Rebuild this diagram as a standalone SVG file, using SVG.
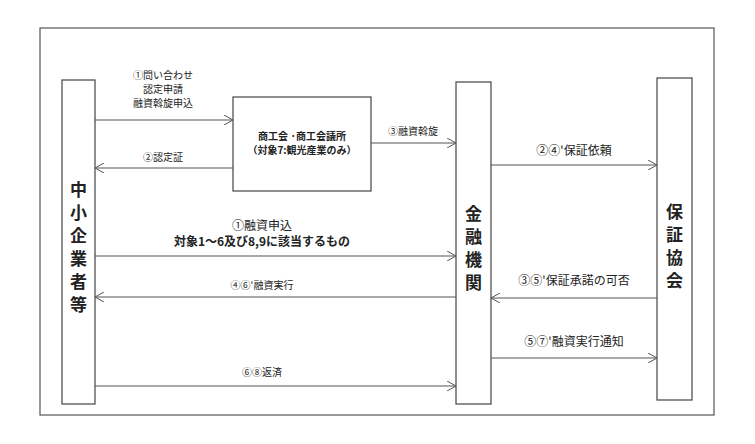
<svg xmlns="http://www.w3.org/2000/svg" width="755" height="444" viewBox="0 0 755 444">
<style>
text{font-family:"Noto Sans CJK JP","Noto Sans",sans-serif;fill:#222}
.s{font-size:10px}
.m{font-size:12px}
.b{font-size:17px;font-weight:bold}
.n{fill:#fff;stroke:#444;stroke-width:1.2}
.c line{stroke:#555;stroke-width:1.1;marker-end:url(#a)}
</style>
<defs><marker id="a" markerWidth="10" markerHeight="10" refX="9" refY="5" orient="auto" markerUnits="userSpaceOnUse"><path d="M0,0 L9,5 L0,10" fill="none" stroke="#555" stroke-width="1"/></marker></defs>
<rect width="755" height="444" fill="#fff"/>
<rect x="40" y="28" width="674" height="387" fill="none" stroke="#555" stroke-width="1.2"/>
<g id="sme"><rect class="n" x="62" y="80" width="33" height="324"/>
<text class="b" text-anchor="middle" x="78.5" y="196">中</text><text class="b" text-anchor="middle" x="78.5" y="219">小</text><text class="b" text-anchor="middle" x="78.5" y="242">企</text><text class="b" text-anchor="middle" x="78.5" y="265">業</text><text class="b" text-anchor="middle" x="78.5" y="288">者</text><text class="b" text-anchor="middle" x="78.5" y="311">等</text></g>
<g id="chamber"><rect class="n" x="233" y="97" width="138" height="94"/>
<text class="s" font-weight="bold" text-anchor="middle" x="302" y="140">商工会 ·商工会議所</text>
<text class="s" font-weight="bold" text-anchor="middle" x="302" y="154">（対象7:観光産業のみ）</text></g>
<g id="bank"><rect class="n" x="456" y="82" width="35" height="322"/>
<text class="b" text-anchor="middle" x="473.5" y="220">金</text><text class="b" text-anchor="middle" x="473.5" y="243">融</text><text class="b" text-anchor="middle" x="473.5" y="266">機</text><text class="b" text-anchor="middle" x="473.5" y="289">関</text></g>
<g id="guarantee"><rect class="n" x="657" y="78" width="35" height="322"/>
<text class="b" text-anchor="middle" x="674.5" y="218">保</text><text class="b" text-anchor="middle" x="674.5" y="241">証</text><text class="b" text-anchor="middle" x="674.5" y="264">協</text><text class="b" text-anchor="middle" x="674.5" y="287">会</text></g>
<g class="c">
<line x1="95" y1="120" x2="233" y2="120"/>
<line x1="233" y1="168" x2="95" y2="168"/>
<line x1="371" y1="143" x2="456" y2="143"/>
<line x1="95" y1="256" x2="456" y2="256"/>
<line x1="456" y1="297" x2="95" y2="297"/>
<line x1="95" y1="386" x2="456" y2="386"/>
<line x1="491" y1="165" x2="657" y2="165"/>
<line x1="657" y1="298" x2="491" y2="298"/>
<line x1="491" y1="358" x2="657" y2="358"/>
</g>
<g id="labels">
<text class="s" text-anchor="middle" x="163" y="79">①問い合わせ</text>
<text class="s" text-anchor="middle" x="163" y="93">認定申請</text>
<text class="s" text-anchor="middle" x="163" y="107">融資斡旋申込</text>
<text class="s" text-anchor="middle" x="163" y="161">②認定証</text>
<text class="s" text-anchor="middle" x="413" y="135">③融資斡旋</text>
<text class="m" text-anchor="middle" x="262" y="230">①融資申込</text>
<text class="m" font-weight="bold" text-anchor="middle" x="262" y="246">対象1～6及び8,9に該当するもの</text>
<text class="s" text-anchor="middle" x="262" y="289">④⑥'融資実行</text>
<text class="s" text-anchor="middle" x="262" y="376">⑥⑧返済</text>
<text class="m" text-anchor="middle" x="574" y="155">②④'保証依頼</text>
<text class="m" text-anchor="middle" x="574" y="285">③⑤'保証承諾の可否</text>
<text class="m" text-anchor="middle" x="574" y="346">⑤⑦'融資実行通知</text>
</g>
</svg>
